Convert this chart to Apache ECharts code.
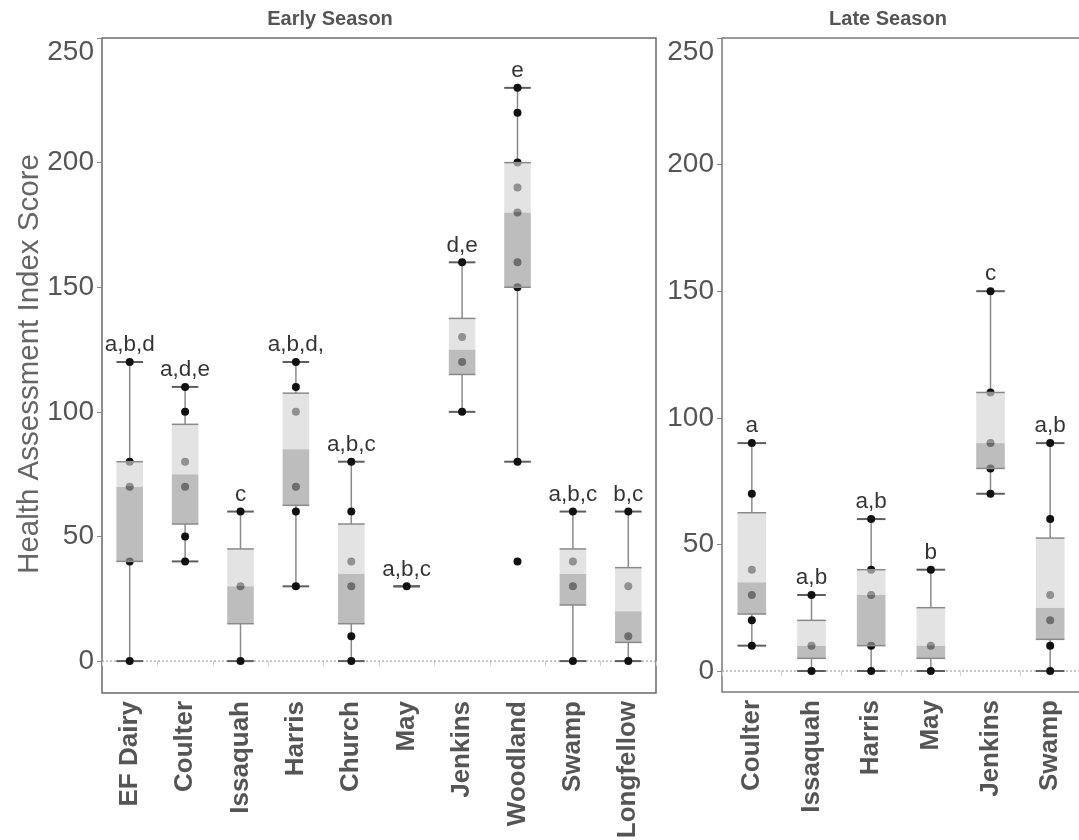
<!DOCTYPE html>
<html><head><meta charset="utf-8">
<script src="https://cdn.jsdelivr.net/npm/echarts@6/dist/echarts.min.js"></script>
<style>html,body{margin:0;padding:0;background:#fff}#main{width:1079px;height:840px}</style>
</head><body><div id="main"></div>
<script>
// ---------- data ----------
const earlyCategories = ['EF Dairy','Coulter','Issaquah','Harris','Church','May','Jenkins','Woodland','Swamp','Longfellow'];
// individual observations
const earlyPoints = [
  [0,40,70,80,120],
  [40,50,70,80,100,110],
  [0,30,60],
  [30,60,70,100,110,120],
  [0,10,30,40,60,80],
  [30],
  [100,120,130,160],
  [40,80,150,160,180,190,200,220,230],
  [0,30,40,60],
  [0,10,30,60]
];
// [lower whisker, Q1, median, Q3, upper whisker]
const earlyBoxes = [
  [0,40,70,80,120],
  [40,55,75,95,110],
  [0,15,30,45,60],
  [30,62.5,85,107.5,120],
  [0,15,35,55,80],
  [30,30,30,30,30],
  [100,115,125,137.5,160],
  [80,150,180,200,230],
  [0,22.5,35,45,60],
  [0,7.5,20,37.5,60]
];
const earlyLetters = ['a,b,d','a,d,e','c','a,b,d,','a,b,c','a,b,c','d,e','e','a,b,c','b,c'];

const lateCategories = ['Coulter','Issaquah','Harris','May','Jenkins','Swamp'];
const latePoints = [
  [10,20,30,40,70,90],
  [0,10,30],
  [0,10,30,40,60],
  [0,10,40],
  [70,80,90,110,150],
  [0,10,20,30,60,90]
];
const lateBoxes = [
  [10,22.5,35,62.5,90],
  [0,5,10,20,30],
  [0,10,30,40,60],
  [0,5,10,25,40],
  [70,80,90,110,150],
  [0,12.5,25,52.5,90]
];
const lateLetters = ['a','a,b','a,b','b','c','a,b'];

const yTicks = [0,50,100,150,200,250];
const panelTitles = ['Early Season','Late Season'];
const yTitle = 'Health Assessment Index Score';

// ---------- chart ----------
const FONT = '"Liberation Sans", Arial, Helvetica, sans-serif';
const chart = echarts.init(document.getElementById('main'));

function zeroLineSeries(idx){
  return {
    type:'custom', xAxisIndex:idx, yAxisIndex:idx, z:1, silent:true,
    data:[[0,0]],
    renderItem(params, api){
      const cs = params.coordSys;
      const y = api.coord([0,0])[1];
      return {type:'line', shape:{x1:cs.x, y1:y, x2:cs.x+cs.width, y2:y},
        style:{stroke:'#8f8f8f', lineWidth:1, lineDash:[2,2]}};
    }
  };
}
function whiskerSeries(boxes, idx){
  return {
    type:'custom', xAxisIndex:idx, yAxisIndex:idx, z:2, silent:true,
    encode:{x:0, y:[1,2,3,4]},
    data: boxes.map((b,i)=>[i,b[0],b[1],b[3],b[4]]),
    renderItem(params, api){
      const i = api.value(0);
      const pMin = api.coord([i, api.value(1)]);
      const pQ1 = api.coord([i, api.value(2)]);
      const pQ3 = api.coord([i, api.value(3)]);
      const pMax = api.coord([i, api.value(4)]);
      const w = api.size([1,0])[0]*0.48;
      const cx = pMin[0];
      const ws = {stroke:'#8a8a8a', lineWidth:1.5};
      const cs = {stroke:'#5e5e5e', lineWidth:2};
      return {type:'group', children:[
        {type:'line', shape:{x1:cx,y1:pMax[1],x2:cx,y2:pQ3[1]}, style:ws},
        {type:'line', shape:{x1:cx,y1:pQ1[1],x2:cx,y2:pMin[1]}, style:ws},
        {type:'line', shape:{x1:cx-w/2,y1:pMax[1],x2:cx+w/2,y2:pMax[1]}, style:cs},
        {type:'line', shape:{x1:cx-w/2,y1:pMin[1],x2:cx+w/2,y2:pMin[1]}, style:cs}
      ]};
    }
  };
}
function pointSeries(points, idx){
  const data = [];
  points.forEach((arr,i)=>arr.forEach(v=>data.push([i,v])));
  return {type:'scatter', xAxisIndex:idx, yAxisIndex:idx, z:3, silent:true,
    symbolSize:8, itemStyle:{color:'#111', opacity:1}, data};
}
function boxSeries(boxes, idx){
  return {
    type:'custom', xAxisIndex:idx, yAxisIndex:idx, z:4, silent:true,
    encode:{x:0, y:[1,2,3]},
    data: boxes.map((b,i)=>[i,b[1],b[2],b[3]]),
    renderItem(params, api){
      const i = api.value(0);
      const pQ1 = api.coord([i, api.value(1)]);
      const pMed = api.coord([i, api.value(2)]);
      const pQ3 = api.coord([i, api.value(3)]);
      const w = api.size([1,0])[0]*0.48;
      const x0 = pQ1[0]-w/2;
      if (Math.abs(pQ1[1]-pQ3[1]) < 0.5) return {type:'group', children:[]};
      const es = {stroke:'#8a8a8a', lineWidth:1.5};
      return {type:'group', children:[
        {type:'rect', shape:{x:x0, y:pMed[1], width:w, height:pQ1[1]-pMed[1]},
          style:{fill:'rgba(157,157,157,0.67)'}},
        {type:'rect', shape:{x:x0, y:pQ3[1], width:w, height:pMed[1]-pQ3[1]},
          style:{fill:'rgba(212,212,212,0.66)'}},
        {type:'line', shape:{x1:x0,y1:pQ3[1],x2:x0+w,y2:pQ3[1]}, style:es},
        {type:'line', shape:{x1:x0,y1:pQ1[1],x2:x0+w,y2:pQ1[1]}, style:es}
      ]};
    }
  };
}
function letterSeries(boxes, letters, idx){
  return {type:'scatter', xAxisIndex:idx, yAxisIndex:idx, z:5, silent:true,
    symbol:'circle', symbolSize:1, itemStyle:{color:'rgba(0,0,0,0)'},
    data: boxes.map((b,i)=>({value:[i,b[4]], name:letters[i]})),
    label:{show:true, position:'top', distance:5, formatter:'{b}',
      fontFamily:FONT, fontSize:22.5, color:'#000'}};
}
function xAxis(cats, idx){
  return {type:'category', gridIndex:idx, data:cats, boundaryGap:true,
    axisLine:{show:false},
    axisTick:{show:true, length:5, lineStyle:{color:'#cfcfcf', width:1}},
    axisLabel:{interval:0, rotate:90, margin:8, fontFamily:FONT, fontWeight:'bold',
      fontSize:26, color:'#555'},
    splitLine:{show:false}};
}
function yAxis(idx, min){
  return {type:'value', gridIndex:idx, min:min, max:250,
    axisLine:{show:false}, splitLine:{show:false},
    axisTick:{show:true, length:5, customValues:yTicks, lineStyle:{color:'#888'}},
    axisLabel:{customValues:yTicks, margin:8, fontFamily:FONT, fontSize:28, color:'#555',
      verticalAlignMaxLabel:'top'}};
}

chart.setOption({
  animation:false,
  backgroundColor:'#fff',
  grid:[
    {left:102, top:38, width:554, height:655, outerBoundsMode:'none', containLabel:false,
      show:true, borderColor:'#6a6a6a', borderWidth:1.5, backgroundColor:'transparent'},
    {left:722, top:38, width:358, height:654, outerBoundsMode:'none', containLabel:false,
      show:true, borderColor:'#7a7a7a', borderWidth:1.5, backgroundColor:'transparent'}
  ],
  xAxis:[xAxis(earlyCategories,0), xAxis(lateCategories,1)],
  yAxis:[yAxis(0,-12.8), yAxis(1,-8.3)],
  graphic:[
    {type:'text', x:330, y:19, style:{text:panelTitles[0], align:'center', verticalAlign:'middle',
      font:'bold 20px ' + FONT, fill:'#555'}},
    {type:'text', x:888, y:19, style:{text:panelTitles[1], align:'center', verticalAlign:'middle',
      font:'bold 20px ' + FONT, fill:'#555'}},
    {type:'text', x:30, y:364, rotation:Math.PI/2, style:{text:yTitle, align:'center', verticalAlign:'middle',
      font:'29.5px ' + FONT, fill:'#666'}}
  ],
  series:[
    zeroLineSeries(0), whiskerSeries(earlyBoxes,0), pointSeries(earlyPoints,0), boxSeries(earlyBoxes,0), letterSeries(earlyBoxes, earlyLetters, 0),
    zeroLineSeries(1), whiskerSeries(lateBoxes,1), pointSeries(latePoints,1), boxSeries(lateBoxes,1), letterSeries(lateBoxes, lateLetters, 1)
  ]
});
</script></body></html>
